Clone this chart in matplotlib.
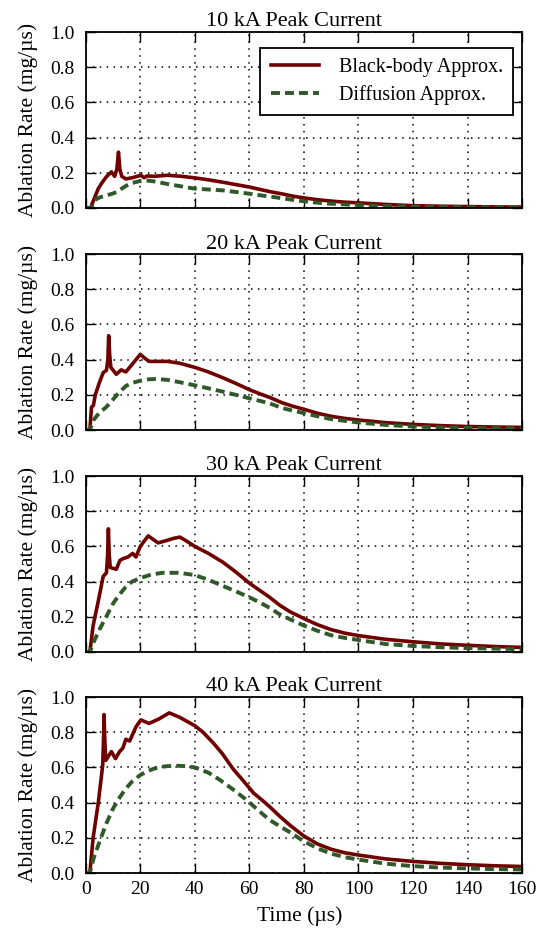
import matplotlib
matplotlib.use("Agg")
import matplotlib.pyplot as plt

plt.rcParams['font.family'] = ['Liberation Serif', 'DejaVu Serif']

titles = ["10 kA Peak Current", "20 kA Peak Current", "30 kA Peak Current", "40 kA Peak Current"]

# black-body approximation, one (time, rate) pair of lists per peak current
bb_t_10 = [0, 1.8, 2.5, 3.9, 4.6, 5.8, 7.6, 9.4, 10.6, 11.4, 12.0, 12.5, 13.2, 14.7, 17.1, 20.2, 21.4, 22.5, 25, 30, 35, 40, 45, 50, 55, 60, 64, 67.5, 72, 76, 80, 85, 90, 95, 100, 110, 120, 130, 140, 150, 160]
bb_y_10 = [0, 0, 0.03, 0.083, 0.11, 0.14, 0.178, 0.205, 0.18, 0.22, 0.317, 0.22, 0.18, 0.165, 0.172, 0.186, 0.172, 0.182, 0.18, 0.186, 0.18, 0.171, 0.16, 0.147, 0.133, 0.119, 0.105, 0.093, 0.08, 0.067, 0.057, 0.047, 0.039, 0.033, 0.029, 0.02, 0.013, 0.01, 0.008, 0.006, 0.005]
bb_t_20 = [0, 1.5, 2.1, 2.8, 3.5, 5.0, 6.4, 7.6, 8.1, 8.4, 8.8, 9.2, 11.2, 13.0, 14.7, 17.1, 20.0, 21.5, 23.2, 27, 30, 34.3, 40, 45, 50.3, 55, 60.2, 64, 67.5, 72, 76, 80, 85, 90, 95, 100, 110, 120, 130, 140, 150, 160]
bb_y_20 = [0, 0, 0.13, 0.14, 0.2, 0.27, 0.326, 0.34, 0.4, 0.536, 0.42, 0.356, 0.317, 0.342, 0.33, 0.375, 0.43, 0.41, 0.39, 0.39, 0.39, 0.38, 0.356, 0.33, 0.297, 0.265, 0.228, 0.205, 0.185, 0.155, 0.135, 0.118, 0.095, 0.078, 0.066, 0.057, 0.042, 0.032, 0.025, 0.02, 0.017, 0.015]
bb_t_30 = [0, 1.5, 2.7, 4.6, 6.4, 7.6, 8.0, 8.3, 8.6, 9.0, 11.2, 12.5, 13.6, 15.5, 17.2, 18.4, 20.0, 22.9, 26.5, 30, 32, 34.5, 37, 40, 45, 50.3, 55, 60.1, 64, 67.5, 71.2, 75, 80, 85, 90, 95, 100, 110, 120, 130, 140, 150, 160]
bb_y_30 = [0, 0, 0.15, 0.29, 0.43, 0.45, 0.55, 0.70, 0.55, 0.48, 0.47, 0.52, 0.53, 0.54, 0.56, 0.54, 0.6, 0.66, 0.62, 0.635, 0.645, 0.653, 0.63, 0.60, 0.56, 0.51, 0.455, 0.39, 0.348, 0.31, 0.265, 0.228, 0.19, 0.155, 0.127, 0.107, 0.093, 0.072, 0.058, 0.046, 0.038, 0.031, 0.026]
bb_t_40 = [0, 1.5, 2.7, 4.6, 6.2, 6.5, 6.7, 7.0, 7.3, 9.4, 10.9, 12.4, 13.6, 14.7, 16.1, 18.4, 20.2, 23.2, 26.9, 30.6, 34.3, 40, 43, 46.7, 50, 54.1, 58, 61.5, 65, 67.5, 71.3, 75, 80, 85, 90, 95, 100, 110, 120, 130, 140, 150, 160]
bb_y_40 = [0, 0, 0.2, 0.40, 0.61, 0.75, 0.90, 0.75, 0.64, 0.69, 0.65, 0.69, 0.71, 0.76, 0.75, 0.83, 0.87, 0.85, 0.876, 0.91, 0.886, 0.837, 0.80, 0.74, 0.68, 0.59, 0.52, 0.455, 0.41, 0.376, 0.32, 0.27, 0.21, 0.165, 0.135, 0.115, 0.102, 0.08, 0.066, 0.055, 0.047, 0.041, 0.037]

# diffusion approximation
df_t_10 = [0, 2, 3, 3.9, 5.5, 7.6, 9.5, 11.3, 13, 14.7, 17, 19.6, 21.5, 23.2, 25.5, 28.1, 31, 34.2, 37, 40, 45, 50.3, 55, 60, 64, 67.5, 72, 76, 80, 85, 90, 95, 100, 110, 120, 130, 140, 150, 160]
df_y_10 = [0, 0, 0.03, 0.052, 0.062, 0.071, 0.08, 0.09, 0.108, 0.125, 0.142, 0.152, 0.155, 0.155, 0.15, 0.142, 0.133, 0.125, 0.117, 0.11, 0.105, 0.1, 0.091, 0.081, 0.072, 0.065, 0.055, 0.046, 0.038, 0.03, 0.024, 0.02, 0.017, 0.011, 0.008, 0.005, 0.004, 0.003, 0.003]
df_t_20 = [0, 1.5, 3, 5.1, 7.5, 9.8, 12, 14.7, 17, 20, 23, 25.7, 30, 35, 40, 45, 50, 55, 60, 64, 67.5, 72, 76, 80, 85, 90, 95, 100, 110, 120, 130, 140, 150, 160]
df_y_20 = [0, 0, 0.06, 0.1, 0.13, 0.17, 0.21, 0.25, 0.268, 0.28, 0.288, 0.29, 0.285, 0.27, 0.254, 0.237, 0.219, 0.2, 0.18, 0.165, 0.151, 0.125, 0.11, 0.096, 0.078, 0.062, 0.052, 0.043, 0.029, 0.02, 0.015, 0.012, 0.01, 0.008]
df_t_30 = [0, 1.5, 3, 5.1, 7.5, 9.8, 12, 14.7, 17, 20, 24, 28.2, 34.3, 40, 45, 50.3, 55, 60.1, 64, 67.5, 71, 75, 80, 85, 90, 95, 100, 110, 120, 130, 140, 150, 160]
df_y_30 = [0, 0, 0.06, 0.13, 0.2, 0.27, 0.32, 0.37, 0.4, 0.42, 0.44, 0.45, 0.45, 0.437, 0.41, 0.375, 0.345, 0.31, 0.28, 0.25, 0.215, 0.185, 0.15, 0.12, 0.095, 0.08, 0.068, 0.045, 0.034, 0.027, 0.022, 0.019, 0.016]
df_t_40 = [0, 1.5, 3, 5.1, 7.5, 9.8, 12, 14.7, 17, 20, 23, 25.7, 29, 33, 37, 40, 45, 49.1, 54, 58.9, 63, 67.5, 71.3, 75, 80, 85, 90, 95, 100, 110, 120, 130, 140, 150, 160]
df_y_40 = [0, 0, 0.09, 0.18, 0.28, 0.36, 0.42, 0.48, 0.52, 0.557, 0.582, 0.596, 0.606, 0.61, 0.607, 0.60, 0.57, 0.53, 0.475, 0.416, 0.36, 0.30, 0.265, 0.23, 0.18, 0.14, 0.11, 0.09, 0.076, 0.053, 0.039, 0.031, 0.026, 0.022, 0.02]

bb_t = [bb_t_10, bb_t_20, bb_t_30, bb_t_40]
bb_y = [bb_y_10, bb_y_20, bb_y_30, bb_y_40]
df_t = [df_t_10, df_t_20, df_t_30, df_t_40]
df_y = [df_y_10, df_y_20, df_y_30, df_y_40]

xticks = [0, 20, 40, 60, 80, 100, 120, 140, 160]
yticks = [0.0, 0.2, 0.4, 0.6, 0.8, 1.0]

red = "#700000"
green = "#30592a"

fig = plt.figure(figsize=(5.36, 9.33), dpi=100)
bottoms = [0.7771, 0.5391, 0.3012, 0.0643]
for i in range(4):
	ax = fig.add_axes([0.160, bottoms[i], 0.814, 0.1886])
	ax.plot(bb_t[i], bb_y[i], color=red, lw=2.6, label="Black-body Approx.")
	ax.plot(df_t[i], df_y[i], color=green, lw=2.8, linestyle=(0, (2.3, 1.3)), label="Diffusion Approx.")
	ax.set_xlim(0, 160)
	ax.set_ylim(0, 1)
	ax.set_xticks(xticks)
	ax.set_yticks(yticks)
	ax.set_yticklabels(["%.1f" % v for v in yticks])
	ax.grid(True, color="black", linestyle=(0, (1, 3.5)), lw=1.1)
	ax.tick_params(direction="in", top=True, right=True, length=7, width=1, labelsize=14)
	ax.tick_params(axis="y", pad=8)
	ax.tick_params(axis="x", pad=6)
	for s in ax.spines.values():
		s.set_linewidth(1.3)
	ax.set_title(titles[i], fontsize=16, pad=4, x=0.478)
	ax.set_ylabel("Ablation Rate (mg/µs)", fontsize=15.5, labelpad=9)
	if i < 3:
		ax.set_xticklabels([])
	else:
		ax.set_xticklabels([str(v) for v in xticks])
		ax.set_xlabel("Time (µs)", fontsize=15.5, labelpad=6, x=0.49)
	if i == 0:
		leg = ax.legend(loc="upper right", bbox_to_anchor=(0.98, 0.91), borderaxespad=0, fontsize=14.5, fancybox=False,
			handlelength=2.4, handletextpad=1.0, borderpad=0.5, labelspacing=0.4, framealpha=1)
		leg.get_frame().set_edgecolor("black")
		leg.get_frame().set_linewidth(1.3)

fig.savefig("out.png", dpi=100)
